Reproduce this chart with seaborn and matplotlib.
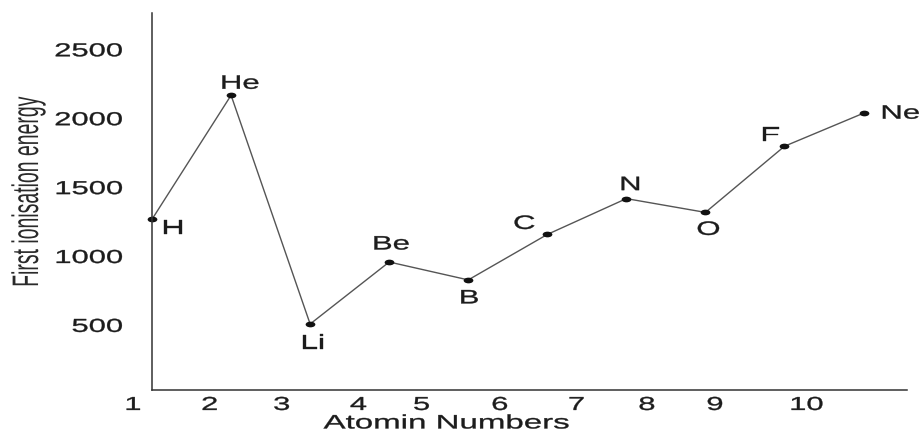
import numpy as np
import pandas as pd
import seaborn as sns
import matplotlib
matplotlib.use("Agg")
import matplotlib.pyplot as plt
from matplotlib import patheffects
from matplotlib.path import Path
from matplotlib.transforms import Affine2D

# First ionisation energies of the first ten elements
elements = ["H", "He", "Li", "Be", "B", "C", "N", "O", "F", "Ne"]
atomic_numbers = [1, 2, 3, 4, 5, 6, 7, 8, 9, 10]
energies = [1270, 2170, 510, 960, 830, 1160, 1420, 1320, 1800, 2040]

# Axis tick labels
x_tick_labels = ["1", "2", "3", "4", "5", "6", "7", "8", "9", "10"]
x_tick_pos = [0.76, 1.73, 2.64, 3.61, 4.41, 5.40, 6.37, 7.26, 8.12, 9.28]
y_ticks = [500, 1000, 1500, 2000, 2500]

# Label offsets (pixels) for each element name relative to its point
label_offsets = [(21, -10), (9, 11), (3, -20), (2, 17), (1, -19),
                 (-23, 10), (4, 13), (3, -18), (-14, 10), (37, -1)]


class HStretch(patheffects.AbstractPathEffect):
    """Widen text glyphs horizontally about a chosen anchor, with an optional outline."""

    def __init__(self, sx=1.6, anchor="center", stroke=0.25):
        super().__init__()
        self.sx = sx
        self.anchor = anchor
        self.stroke = stroke

    def draw_path(self, renderer, gc, tpath, affine, rgbFace=None):
        if len(tpath.vertices) == 0:
            return
        bb = tpath.get_extents(affine)
        ax_x = {"left": bb.x0, "right": bb.x1,
                "center": 0.5 * (bb.x0 + bb.x1)}[self.anchor]
        stretch = Affine2D().translate(-ax_x, 0).scale(self.sx, 1).translate(ax_x, 0)
        gc0 = renderer.new_gc()
        gc0.copy_properties(gc)
        if rgbFace is not None:
            gc0.set_foreground(rgbFace)
        gc0.set_linewidth(self.stroke)
        renderer.draw_path(gc0, tpath, affine + stretch, rgbFace)
        gc0.restore()


sns.set_theme(style="white")
plt.rcParams["font.family"] = ["Liberation Sans", "DejaVu Sans"]

ink = "#1c1c1c"
df = pd.DataFrame({"z": atomic_numbers, "energy": energies, "el": elements})

fig = plt.figure(figsize=(9.23, 4.32), dpi=100)
ax = fig.add_axes([0.1390, 0.0972, 0.8437, 0.8727])

dot = Path.unit_circle().transformed(Affine2D().scale(1.7, 1.0))
sns.lineplot(data=df, x="z", y="energy", ax=ax, color="#555555",
             linewidth=1.0, marker=dot, markersize=7,
             markerfacecolor="#111111", markeredgecolor="#111111",
             markeredgewidth=0, clip_on=False)

ax.set_xticks(x_tick_pos, x_tick_labels)
ax.set_yticks(y_ticks, [str(v) for v in y_ticks])
ax.set_xlim(0.70, 10.55)
ax.set_ylim(31, 2767)

# Only the left and bottom axis lines, meeting at atomic number 1
sns.despine(ax=ax)
ax.spines["left"].set_position(("data", 1.0))
ax.spines["bottom"].set_bounds(1.0, 10.55)
for side in ("left", "bottom"):
    ax.spines[side].set_color("#333333")
    ax.spines[side].set_linewidth(1.1)

ax.tick_params(axis="x", length=0, pad=5, labelsize=13.5, labelcolor=ink)
ax.tick_params(axis="y", length=0, pad=21, labelsize=13.5, labelcolor=ink)
plt.setp(ax.get_xticklabels(), path_effects=[HStretch(1.65, "center")])
plt.setp(ax.get_yticklabels(), path_effects=[HStretch(1.65, "right")])

ax.set_xlabel("Atomin Numbers", fontsize=14, color=ink, va="center",
              path_effects=[HStretch(1.7, "center")])
ax.xaxis.set_label_coords(0.409, -0.090)
ax.set_ylabel("First ionisation energy", fontsize=14, color="#2a2a2a",
              va="center", rotation_mode="default",
              path_effects=[HStretch(1.9, "center", stroke=0.0)])
ax.yaxis.set_label_coords(-0.1275, 0.528)

for z, e, el, (dx, dy) in zip(atomic_numbers, energies, elements, label_offsets):
    ax.annotate(el, (z, e), xytext=(dx, dy), textcoords="offset pixels",
                ha="center", va="center", fontsize=14, color=ink,
                path_effects=[HStretch(1.6, "center")], annotation_clip=False)

fig.savefig("out.png", dpi=100, facecolor="white")
